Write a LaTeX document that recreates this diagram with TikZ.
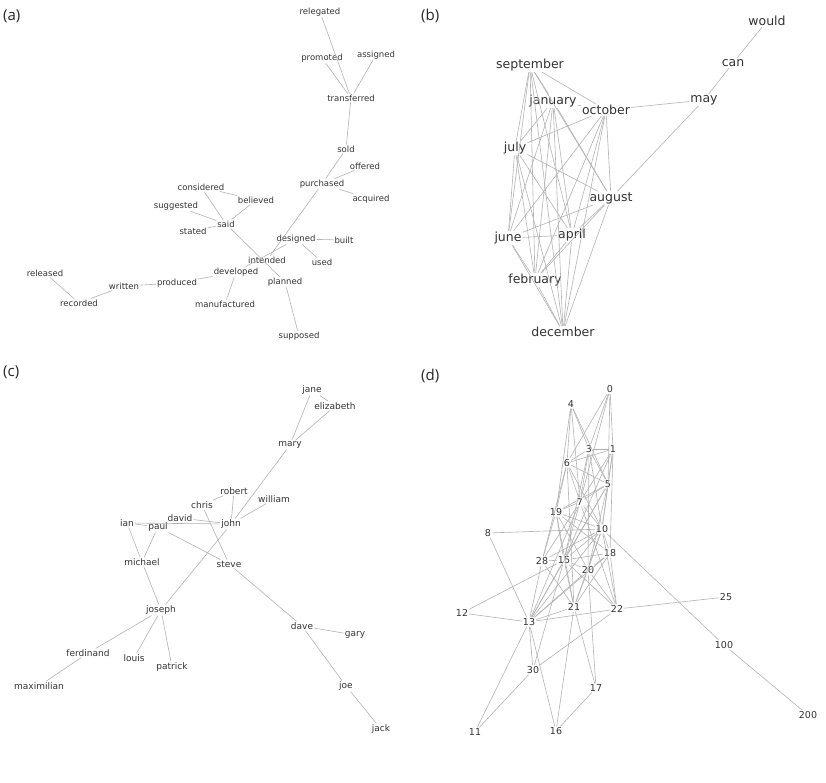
\documentclass[tikz,border=0pt]{standalone}
\usepackage{fontspec}
\setmainfont{Open Sans}
\newfontfamily\lblfont{DejaVu Sans}
\begin{document}
\begin{tikzpicture}[x=1pt, y=-1pt,
    every node/.style={inner sep=1pt, text=black!80},
    word/.style={font=\lblfont\fontsize{8.5}{9}\selectfont},
    month/.style={font=\lblfont\fontsize{12.5}{13}\selectfont},
    person/.style={font=\lblfont\fontsize{9}{10}\selectfont},
    num/.style={font=\lblfont\fontsize{9.5}{10}\selectfont},
    panel/.style={font=\fontsize{15}{16}\selectfont, text=black!85, anchor=west},
    link/.style={draw=black!30, line width=0.6pt}]
    \useasboundingbox (0,0) rectangle (826,782);

    % Panel labels
    \node[panel] (pa) at (2,16) {(a)};
    \node[panel] (pb) at (420,16) {(b)};
    \node[panel] (pc) at (2,372) {(c)};
    \node[panel] (pd) at (420,376) {(d)};

    % (a) verbs
    \foreach \n/\x/\y in {relegated/320/12, promoted/322/58, assigned/376/55,
        transferred/351/98, sold/346/149, offered/365/166, purchased/322/184,
        acquired/371/199, considered/201/187, believed/256/200, suggested/176/206,
        said/226/224, stated/193/231, designed/296/239, built/344/240,
        intended/267/260, used/322/262, developed/236/272, planned/285/282,
        released/45/273, written/124/286, produced/177/283, recorded/79/303,
        manufactured/225/304, supposed/299/336}
        \node[word] (\n) at (\x,\y) {\n};
    \foreach \a/\b in {relegated/transferred, promoted/transferred, assigned/transferred,
        transferred/sold, sold/purchased, offered/purchased, acquired/purchased,
        purchased/intended, considered/believed, considered/said, believed/said,
        suggested/said, stated/said, said/planned, designed/built, designed/used,
        designed/developed, developed/produced, developed/manufactured,
        produced/written, written/recorded, released/recorded, planned/supposed}
        \draw[link] (\a) -- (\b);

    % (b) months
    \foreach \n/\x/\y in {would/767/21, can/733/63, may/704/100, september/530/65,
        january/553/101, october/606/110, july/515/148, august/611/198,
        june/508/238, april/572/235, february/535/280, december/563/332}
        \node[month] (\n) at (\x,\y) {\n};
    \draw[link] (would) -- (can) -- (may);
    \draw[link] (may) -- (october);
    \draw[link] (may) -- (august);
    \foreach \a/\rest in {september/{january,october,july,august,june,april,february,december},
        january/{october,july,august,june,april,february,december},
        october/{july,august,june,april,february,december},
        july/{august,june,april,february,december},
        august/{june,april,february,december},
        june/{april,february,december},
        april/{february,december},
        february/{december}}
        \foreach \b in \rest
            \draw[link] (\a) -- (\b);

    % (c) names
    \foreach \n/\x/\y in {jane/312/390, elizabeth/335/406, mary/290/445,
        robert/234/491, william/274/499, chris/202/505, david/180/518,
        ian/127/523, paul/158/527, john/231/524, michael/142/562, steve/229/564,
        joseph/161/610, dave/302/626, gary/355/635, ferdinand/88/653,
        louis/134/658, patrick/172/667, maximilian/39/686, joe/346/686, jack/381/729}
        \node[person] (\n) at (\x,\y) {\n};
    \foreach \a/\b in {jane/elizabeth, jane/mary, elizabeth/mary, mary/john,
        robert/chris, robert/john, william/john, ian/paul, ian/john, david/john,
        ian/michael, michael/joseph, paul/michael, paul/steve, chris/steve,
        john/joseph, steve/dave, dave/gary, dave/joe, joe/jack, joseph/ferdinand,
        joseph/louis, joseph/patrick, ferdinand/maximilian}
        \draw[link] (\a) -- (\b);

    % (d) numbers
    \foreach \n/\x/\y in {0/610/389, 4/571/404, 3/589/449, 1/613/449, 6/567/463,
        5/608/484, 7/580/502, 19/556/512, 10/602/529, 8/488/533, 18/610/553,
        28/542/561, 15/564/560, 20/588/570, 12/462/613, 21/574/607, 22/617/609,
        25/726/597, 13/529/622, 100/724/645, 30/533/670, 17/596/688,
        11/475/732, 16/556/731, 200/808/715}
        \node[num] (n\n) at (\x,\y) {\n};
    \foreach \a/\b in {0/3, 0/1, 0/6, 0/5, 0/7, 4/3, 4/6, 4/5, 4/19, 4/7,
        3/1, 3/6, 3/5, 3/7, 3/10, 3/20, 3/15, 1/6, 1/5, 1/7, 1/10, 1/18, 1/15,
        6/5, 6/7, 6/19, 6/10, 6/28, 6/21, 5/7, 5/19, 5/10, 5/15, 5/20, 5/13,
        7/19, 7/10, 7/15, 7/28, 7/22, 7/13, 19/10, 19/18, 19/15, 19/28, 19/20, 19/21,
        10/18, 10/15, 10/28, 10/20, 10/21, 10/22, 10/13, 8/10, 8/13, 10/100, 100/200,
        18/15, 18/20, 18/22, 18/21, 18/13, 28/15, 28/13, 28/21, 15/20, 15/21, 15/22,
        15/13, 15/12, 15/30, 20/21, 20/22, 20/13, 20/17, 21/13, 21/16, 21/17,
        22/13, 22/25, 22/30, 12/13, 13/11, 13/30, 13/16, 30/11, 16/17}
        \draw[link] (n\a) -- (n\b);
\end{tikzpicture}
\end{document}
